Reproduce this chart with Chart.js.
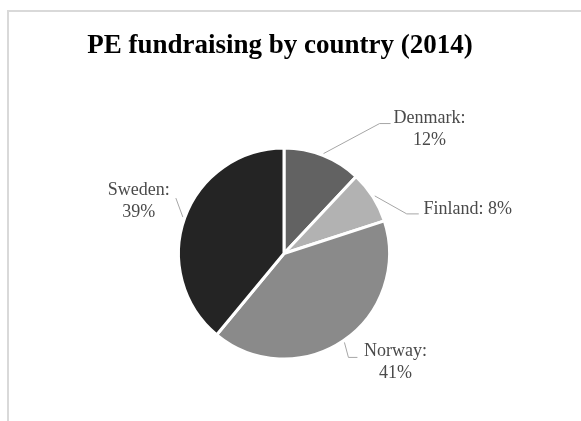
<!DOCTYPE html>
<html>
<head>
<meta charset="utf-8">
<script src="https://cdn.jsdelivr.net/npm/chart.js@4.4.0/dist/chart.umd.min.js"></script>
<style>
    html, body { margin: 0; padding: 0; background: #fff; overflow: hidden; }
    #frame { position: absolute; left: 7px; top: 10px; width: 620px; height: 460px; border: 2px solid #d9d9d9; }
    #wrap { position: absolute; left: 0; top: 0; width: 581px; height: 421px; }
</style>
</head>
<body>
<div id="frame"></div>
<div id="wrap"><canvas id="pieChart" width="581" height="421"></canvas></div>
<script>
// DATA
const chartTitle = 'PE fundraising by country (2014)';
const countries = ['Denmark', 'Finland', 'Norway', 'Sweden'];
const shares = [12, 8, 41, 39];
const sliceColors = ['#626262', '#b2b2b2', '#8a8a8a', '#242424'];

// label placement, relative to where the leader line leaves the pie
const labelLayout = [
    { elbow: [56, -30], tail: 11, text: [39, -5], lines: ['Denmark:', '12%'] },
    { elbow: [32, 18], tail: 12, text: [49, -5], lines: ['Finland: 8%'] },
    { elbow: [4, 15], tail: 9, text: [38, -6], lines: ['Norway:', '41%'] },
    { elbow: [-7, -19], tail: 0, text: [-37, -8], lines: ['Sweden:', '39%'] }
];

// TITLE + DATA LABELS
const pieLabels = {
    id: 'pieLabels',
    afterDraw(chart) {
        const ctx = chart.ctx;
        ctx.save();

        ctx.fillStyle = '#000';
        ctx.font = 'bold 27px "Liberation Serif", "Times New Roman", serif';
        ctx.textAlign = 'center';
        ctx.textBaseline = 'middle';
        ctx.fillText(chartTitle, 280, 46);

        const arcs = chart.getDatasetMeta(0).data;
        arcs.forEach((arc, i) => {
            const cfg = labelLayout[i];
            const mid = (arc.startAngle + arc.endAngle) / 2;
            const r = arc.outerRadius + 2;
            const sx = arc.x + Math.cos(mid) * r;
            const sy = arc.y + Math.sin(mid) * r;
            const ex = sx + cfg.elbow[0];
            const ey = sy + cfg.elbow[1];

            ctx.strokeStyle = '#a6a6a6';
            ctx.lineWidth = 1;
            ctx.beginPath();
            ctx.moveTo(sx, sy);
            ctx.lineTo(ex, ey);
            ctx.lineTo(ex + cfg.tail, ey);
            ctx.stroke();

            ctx.fillStyle = '#4a4a4a';
            ctx.font = '18px "Liberation Serif", "Times New Roman", serif';
            const tx = ex + cfg.tail + cfg.text[0];
            cfg.lines.forEach((line, j) => {
                ctx.fillText(line, tx, ey + cfg.text[1] + j * 22);
            });
        });
        ctx.restore();
    }
};

const ctx = document.getElementById('pieChart').getContext('2d');

new Chart(ctx, {
    type: 'pie',
    data: {
        labels: countries,
        datasets: [{
            data: shares,
            backgroundColor: sliceColors,
            borderColor: '#ffffff',
            borderWidth: 3
        }]
    },
    options: {
        responsive: false,
        animation: false,
        layout: {
            padding: { top: 146, bottom: 60, left: 177, right: 190 }
        },
        plugins: {
            legend: { display: false },
            title: { display: false },
            tooltip: { enabled: false }
        }
    },
    plugins: [pieLabels]
});
</script>
</body>
</html>
